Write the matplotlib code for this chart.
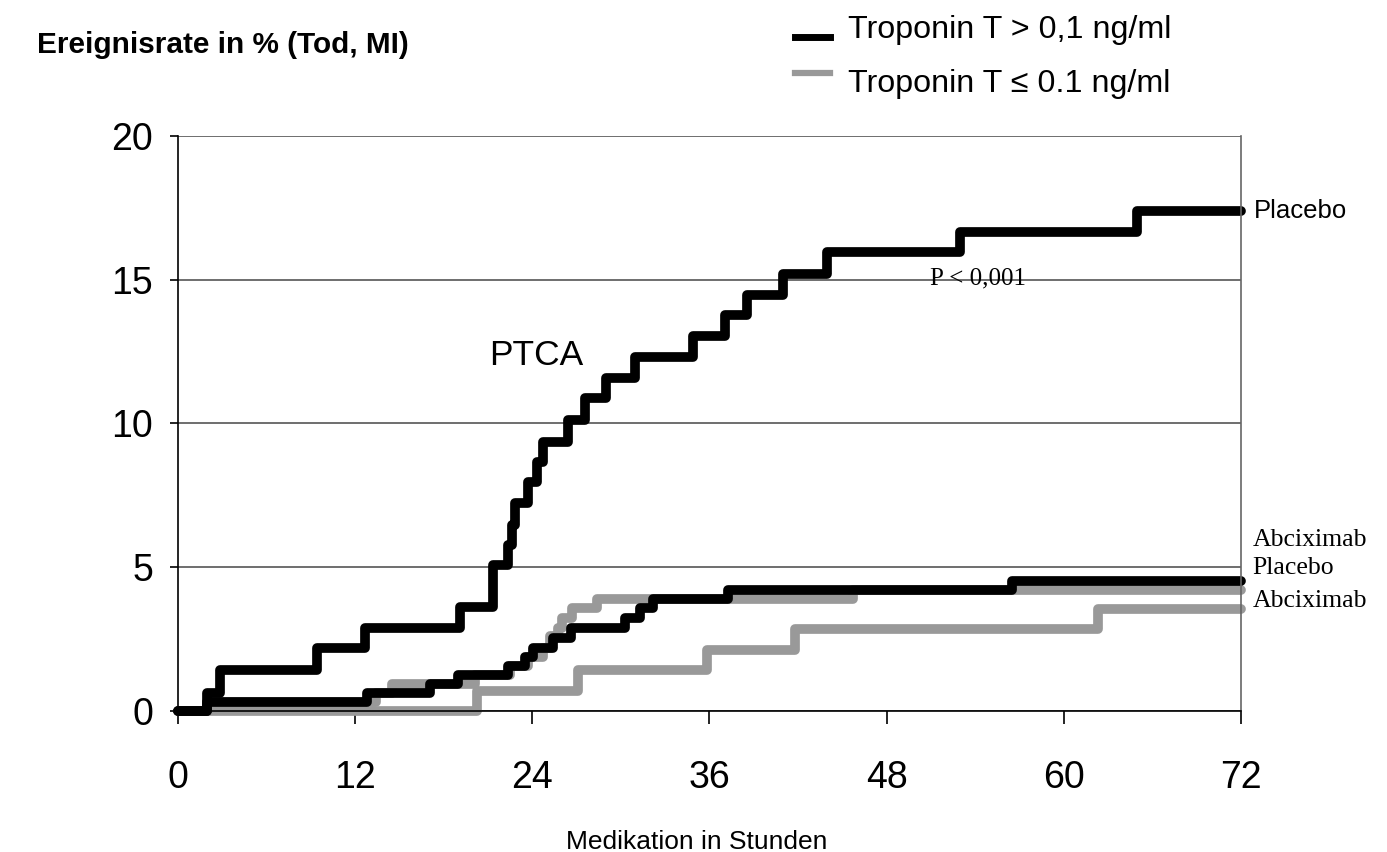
import matplotlib
matplotlib.use("Agg")
import matplotlib.pyplot as plt
from matplotlib.lines import Line2D

# Kaplan-Meier style step curves (hours, event rate in %)
hi_placebo_t = [0, 1.96, 2.84, 9.41, 12.67, 19.1, 21.34, 22.35, 22.62, 22.83,
                23.7, 24.3, 24.72, 26.4, 27.57, 29.0, 30.95, 34.9, 37.05,
                38.54, 40.98, 43.96, 52.97, 64.95, 72]
hi_placebo_v = [0, 0.63, 1.43, 2.19, 2.89, 3.62, 5.08, 5.77, 6.47, 7.23,
                7.97, 8.67, 9.37, 10.13, 10.9, 11.58, 12.3, 13.04, 13.77,
                14.47, 15.2, 15.95, 16.66, 17.39, 17.39]

hi_abcix_t = [0, 1.96, 12.8, 17.07, 18.97, 22.35, 23.5, 24.05, 25.4, 26.62,
              30.28, 31.29, 32.17, 37.25, 56.49, 72]
hi_abcix_v = [0, 0.3, 0.62, 0.94, 1.25, 1.57, 1.88, 2.2, 2.55, 2.9,
              3.23, 3.58, 3.9, 4.2, 4.52, 4.52]

lo_placebo_t = [0, 1.96, 13.41, 14.49, 20.12, 22.49, 23.71, 24.72, 25.2,
                25.74, 26.01, 26.69, 28.38, 45.72, 72]
lo_placebo_v = [0, 0.3, 0.62, 0.94, 1.25, 1.57, 1.88, 2.2, 2.6,
                2.9, 3.23, 3.58, 3.9, 4.2, 4.2]

lo_abcix_t = [0, 20.25, 27.09, 35.83, 41.79, 62.31, 72]
lo_abcix_v = [0, 0.69, 1.41, 2.12, 2.84, 3.56, 3.56]

x_ticks = [0, 12, 24, 36, 48, 60, 72]
y_ticks = [0, 5, 10, 15, 20]

BLACK = "black"
GREY = "#999999"
SANS = "Liberation Sans"
SERIF = "Liberation Serif"

plt.rcParams["font.family"] = SANS

fig = plt.figure(figsize=(13.87, 8.52), dpi=100)
ax = fig.add_axes([0.1283, 0.1655, 0.7664, 0.6749])

line_kw = dict(drawstyle="steps-post", lw=7.0, solid_capstyle="round",
               solid_joinstyle="round", clip_on=False)
ax.plot(lo_placebo_t, lo_placebo_v, color=GREY, **line_kw)
ax.plot(lo_abcix_t, lo_abcix_v, color=GREY, **line_kw)
ax.plot(hi_abcix_t, hi_abcix_v, color=BLACK, **line_kw)
ax.plot(hi_placebo_t, hi_placebo_v, color=BLACK, **line_kw)

ax.set_xlim(0, 72)
ax.set_ylim(0, 20)
ax.set_xticks(x_ticks)
ax.set_yticks(y_ticks)
ax.yaxis.grid(True, color="#555555", lw=1.2)
ax.set_axisbelow(True)
ax.spines["top"].set_visible(False)
ax.spines["right"].set_color("#666666")
ax.spines["right"].set_linewidth(1.2)
ax.spines["left"].set_linewidth(1.2)
ax.spines["bottom"].set_linewidth(1.2)
ax.tick_params(axis="x", direction="out", length=9, width=1.2,
               labelsize=27, pad=26)
ax.tick_params(axis="y", direction="out", length=6, width=1.2,
               labelsize=27, pad=12)

fig.text(697 / 1387, 1 - 842 / 852, "Medikation in Stunden", fontsize=19,
         ha="center", va="center")

fig.text(0.0267, 0.947, "Ereignisrate in % (Tod, MI)", fontsize=21.4,
         fontweight="bold", va="center", ha="left")

# legend drawn by hand
fig.add_artist(Line2D([795 / 1387, 830 / 1387], [1 - 37 / 852] * 2,
                      color=BLACK, lw=5))
fig.add_artist(Line2D([795 / 1387, 830 / 1387], [1 - 73 / 852] * 2,
                      color=GREY, lw=4.5))
fig.text(848 / 1387, 1 - 30 / 852, "Troponin T > 0,1 ng/ml", fontsize=23.2,
         va="center", ha="left")
fig.text(848 / 1387, 1 - 84 / 852, "Troponin T \u2264 0.1 ng/ml",
         fontsize=23.2, va="center", ha="left")

ax.text(24.3, 12.38, "PTCA", fontsize=25.5, ha="center", va="center")
ax.text(54.2, 15.06, "P < 0,001", fontsize=18, family=SERIF,
        ha="center", va="center")
ax.text(72.9, 17.39, "Placebo", fontsize=18.5, ha="left", va="center")
ax.text(72.8, 5.95, "Abciximab", fontsize=18.5, family=SERIF,
        ha="left", va="center")
ax.text(72.8, 4.98, "Placebo", fontsize=18.5, family=SERIF,
        ha="left", va="center")
ax.text(72.8, 3.83, "Abciximab", fontsize=18.5, family=SERIF,
        ha="left", va="center")

fig.savefig("out.png", dpi=100)
